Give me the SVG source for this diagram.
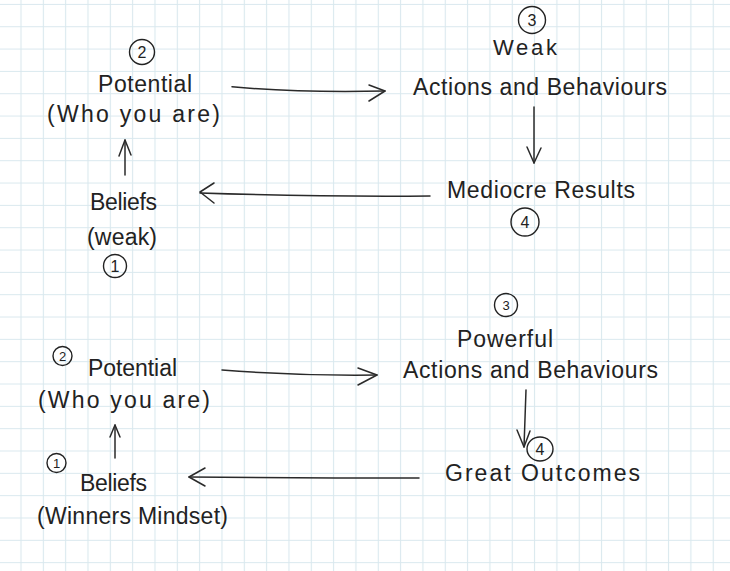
<svg xmlns="http://www.w3.org/2000/svg" width="730" height="571" viewBox="0 0 730 571">
  <defs>
    <pattern id="grid" patternUnits="userSpaceOnUse" x="9.835" y="-6.765" width="22.33" height="22.33">
      <path d="M11.165,0 V22.33 M0,11.165 H22.33" stroke="#d9e8ee" stroke-width="1.1" fill="none"/>
    </pattern>
    <style>
      .t { font-family: "Liberation Sans", Arial, sans-serif; font-size: 23px; fill: #222222; text-anchor: start; }
      .s { font-size: 22px; }
      .n { font-family: "Liberation Sans", Arial, sans-serif; font-size: 16px; fill: #222222; text-anchor: middle; }
      .ns { font-size: 13px; }
      .c { fill: none; stroke: #222222; stroke-width: 1.4; }
      .ln { fill: none; stroke: #2a2a2a; stroke-width: 1.5; stroke-linecap: round; stroke-linejoin: round; }
    </style>
  </defs>
  <rect width="730" height="571" fill="#ffffff"/>
  <rect width="730" height="571" fill="url(#grid)"/>

  <!-- Top cycle -->
  <g id="top-potential">
    <circle class="c" cx="142" cy="52" r="12.5"/>
    <text class="n" x="142" y="58">2</text>
    <text class="t" x="98" y="92" textLength="94">Potential</text>
    <text class="t" x="47" y="122" textLength="173">(Who you are)</text>
  </g>
  <g id="top-actions">
    <circle class="c" cx="532" cy="20" r="13.5"/>
    <text class="n" x="532" y="26">3</text>
    <text class="t s" x="493" y="55" textLength="64">Weak</text>
    <text class="t" x="413" y="95" textLength="254">Actions and Behaviours</text>
  </g>
  <g id="top-results">
    <text class="t" x="447" y="198" textLength="188">Mediocre Results</text>
    <circle class="c" cx="525" cy="222" r="14"/>
    <text class="n" x="525" y="228">4</text>
  </g>
  <g id="top-beliefs">
    <text class="t" x="90" y="210" textLength="67">Beliefs</text>
    <text class="t" x="87" y="245" textLength="70">(weak)</text>
    <circle class="c" cx="115" cy="266" r="11.5"/>
    <text class="n" x="115" y="272">1</text>
  </g>

  <!-- Bottom cycle -->
  <g id="bottom-potential">
    <circle class="c" cx="62.5" cy="356" r="9.5"/>
    <text class="n ns" x="62.5" y="361">2</text>
    <text class="t" x="88" y="376" textLength="89">Potential</text>
    <text class="t" x="38" y="408" textLength="172">(Who you are)</text>
  </g>
  <g id="bottom-actions">
    <circle class="c" cx="506" cy="305" r="11.5"/>
    <text class="n ns" x="506" y="310">3</text>
    <text class="t" x="457" y="347" textLength="96">Powerful</text>
    <text class="t" x="403" y="378" textLength="255">Actions and Behaviours</text>
  </g>
  <g id="bottom-outcomes">
    <ellipse class="c" cx="540" cy="449" rx="13" ry="12"/>
    <text class="n" x="540" y="455">4</text>
    <text class="t" x="445" y="481" textLength="195">Great Outcomes</text>
  </g>
  <g id="bottom-beliefs">
    <circle class="c" cx="56.5" cy="463" r="9.5"/>
    <text class="n ns" x="56.5" y="468">1</text>
    <text class="t" x="80" y="491" textLength="67">Beliefs</text>
    <text class="t" x="37" y="524" textLength="191">(Winners Mindset)</text>
  </g>

  <g id="connectors">
    <path class="ln" d="M232,86.7 Q300,93 385,91"/>
    <path class="ln" d="M369,85 L385,91 L369,101"/>
    <path class="ln" d="M534,107 L534,163"/>
    <path class="ln" d="M527,147 L534,163 L541,148"/>
    <path class="ln" d="M430,196 Q320,197 200,193"/>
    <path class="ln" d="M214,183 L200,192 L214,203"/>
    <path class="ln" d="M125,175 L125,140"/>
    <path class="ln" d="M119,156 L125,140 L131,155"/>

    <path class="ln" d="M222,370 Q300,376 377,375"/>
    <path class="ln" d="M358,368 L377,375 L358,385"/>
    <path class="ln" d="M526,390 L524,447"/>
    <path class="ln" d="M517,430 L524,447 L530,431"/>
    <path class="ln" d="M419,478 Q300,478 189,477"/>
    <path class="ln" d="M205,468 L189,477 L205,486"/>
    <path class="ln" d="M115,458 L115,425"/>
    <path class="ln" d="M110,437 L115,425 L120,437"/>
  </g>
</svg>
